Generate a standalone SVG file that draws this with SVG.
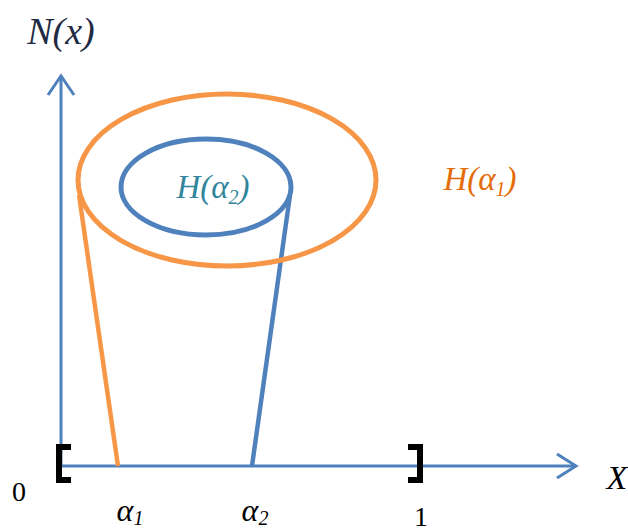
<svg xmlns="http://www.w3.org/2000/svg" width="628" height="531" viewBox="0 0 628 531">
<style>
.math{font-family:"Liberation Serif","DejaVu Serif",serif;font-style:italic}
.num{font-family:"Liberation Serif","DejaVu Serif",serif}
.axis{stroke:#4F81BD;stroke-width:3;fill:none}
.br{stroke:#000;stroke-width:6;fill:none}
</style>
<rect width="628" height="531" fill="#fff"/>
<g id="connectors">
<line class="axis" x1="61" y1="465" x2="61" y2="76"/>
<polyline class="axis" points="48,95 61,76 74,95"/>
<line class="axis" x1="58" y1="466" x2="576" y2="466"/>
<polyline class="axis" points="557,454 576,466 557,478"/>
<line x1="79" y1="195" x2="118" y2="466" stroke="#F79646" stroke-width="4.5"/>
<line x1="290" y1="195" x2="252" y2="466" stroke="#4F81BD" stroke-width="4.5"/>
</g>
<g id="H1">
<ellipse cx="227" cy="180" rx="149" ry="86" fill="none" stroke="#F79646" stroke-width="5"/>
<text x="480" y="190" class="math" font-size="33" fill="#E46C0A" text-anchor="middle">H(α<tspan font-size="20" dy="6">1</tspan><tspan dy="-6">)</tspan></text>
</g>
<g id="H2">
<ellipse cx="206" cy="187" rx="85" ry="48" fill="none" stroke="#4F81BD" stroke-width="5"/>
<text x="213" y="198" class="math" font-size="33" fill="#31859C" text-anchor="middle">H(α<tspan font-size="20" dy="6">2</tspan><tspan dy="-6">)</tspan></text>
</g>
<g id="axes-labels">
<text x="61" y="44" class="math" font-size="38" fill="#1F2A44" text-anchor="middle">N(x)</text>
<text x="617" y="489" class="math" font-size="34" fill="#000" text-anchor="middle">X</text>
<text x="19" y="501" class="num" font-size="28" fill="#000" text-anchor="middle">0</text>
<text x="130" y="521" class="math" font-size="32" fill="#000" text-anchor="middle">α<tspan font-size="20" dy="4">1</tspan></text>
<text x="255" y="521" class="math" font-size="32" fill="#000" text-anchor="middle">α<tspan font-size="20" dy="4">2</tspan></text>
<text x="421" y="526" class="num" font-size="28" fill="#000" text-anchor="middle">1</text>
</g>
<g id="brackets">
<polyline class="br" points="71,447 59,447 59,480 71,480"/>
<polyline class="br" points="408,447 420,447 420,480 408,480"/>
</g>
</svg>
